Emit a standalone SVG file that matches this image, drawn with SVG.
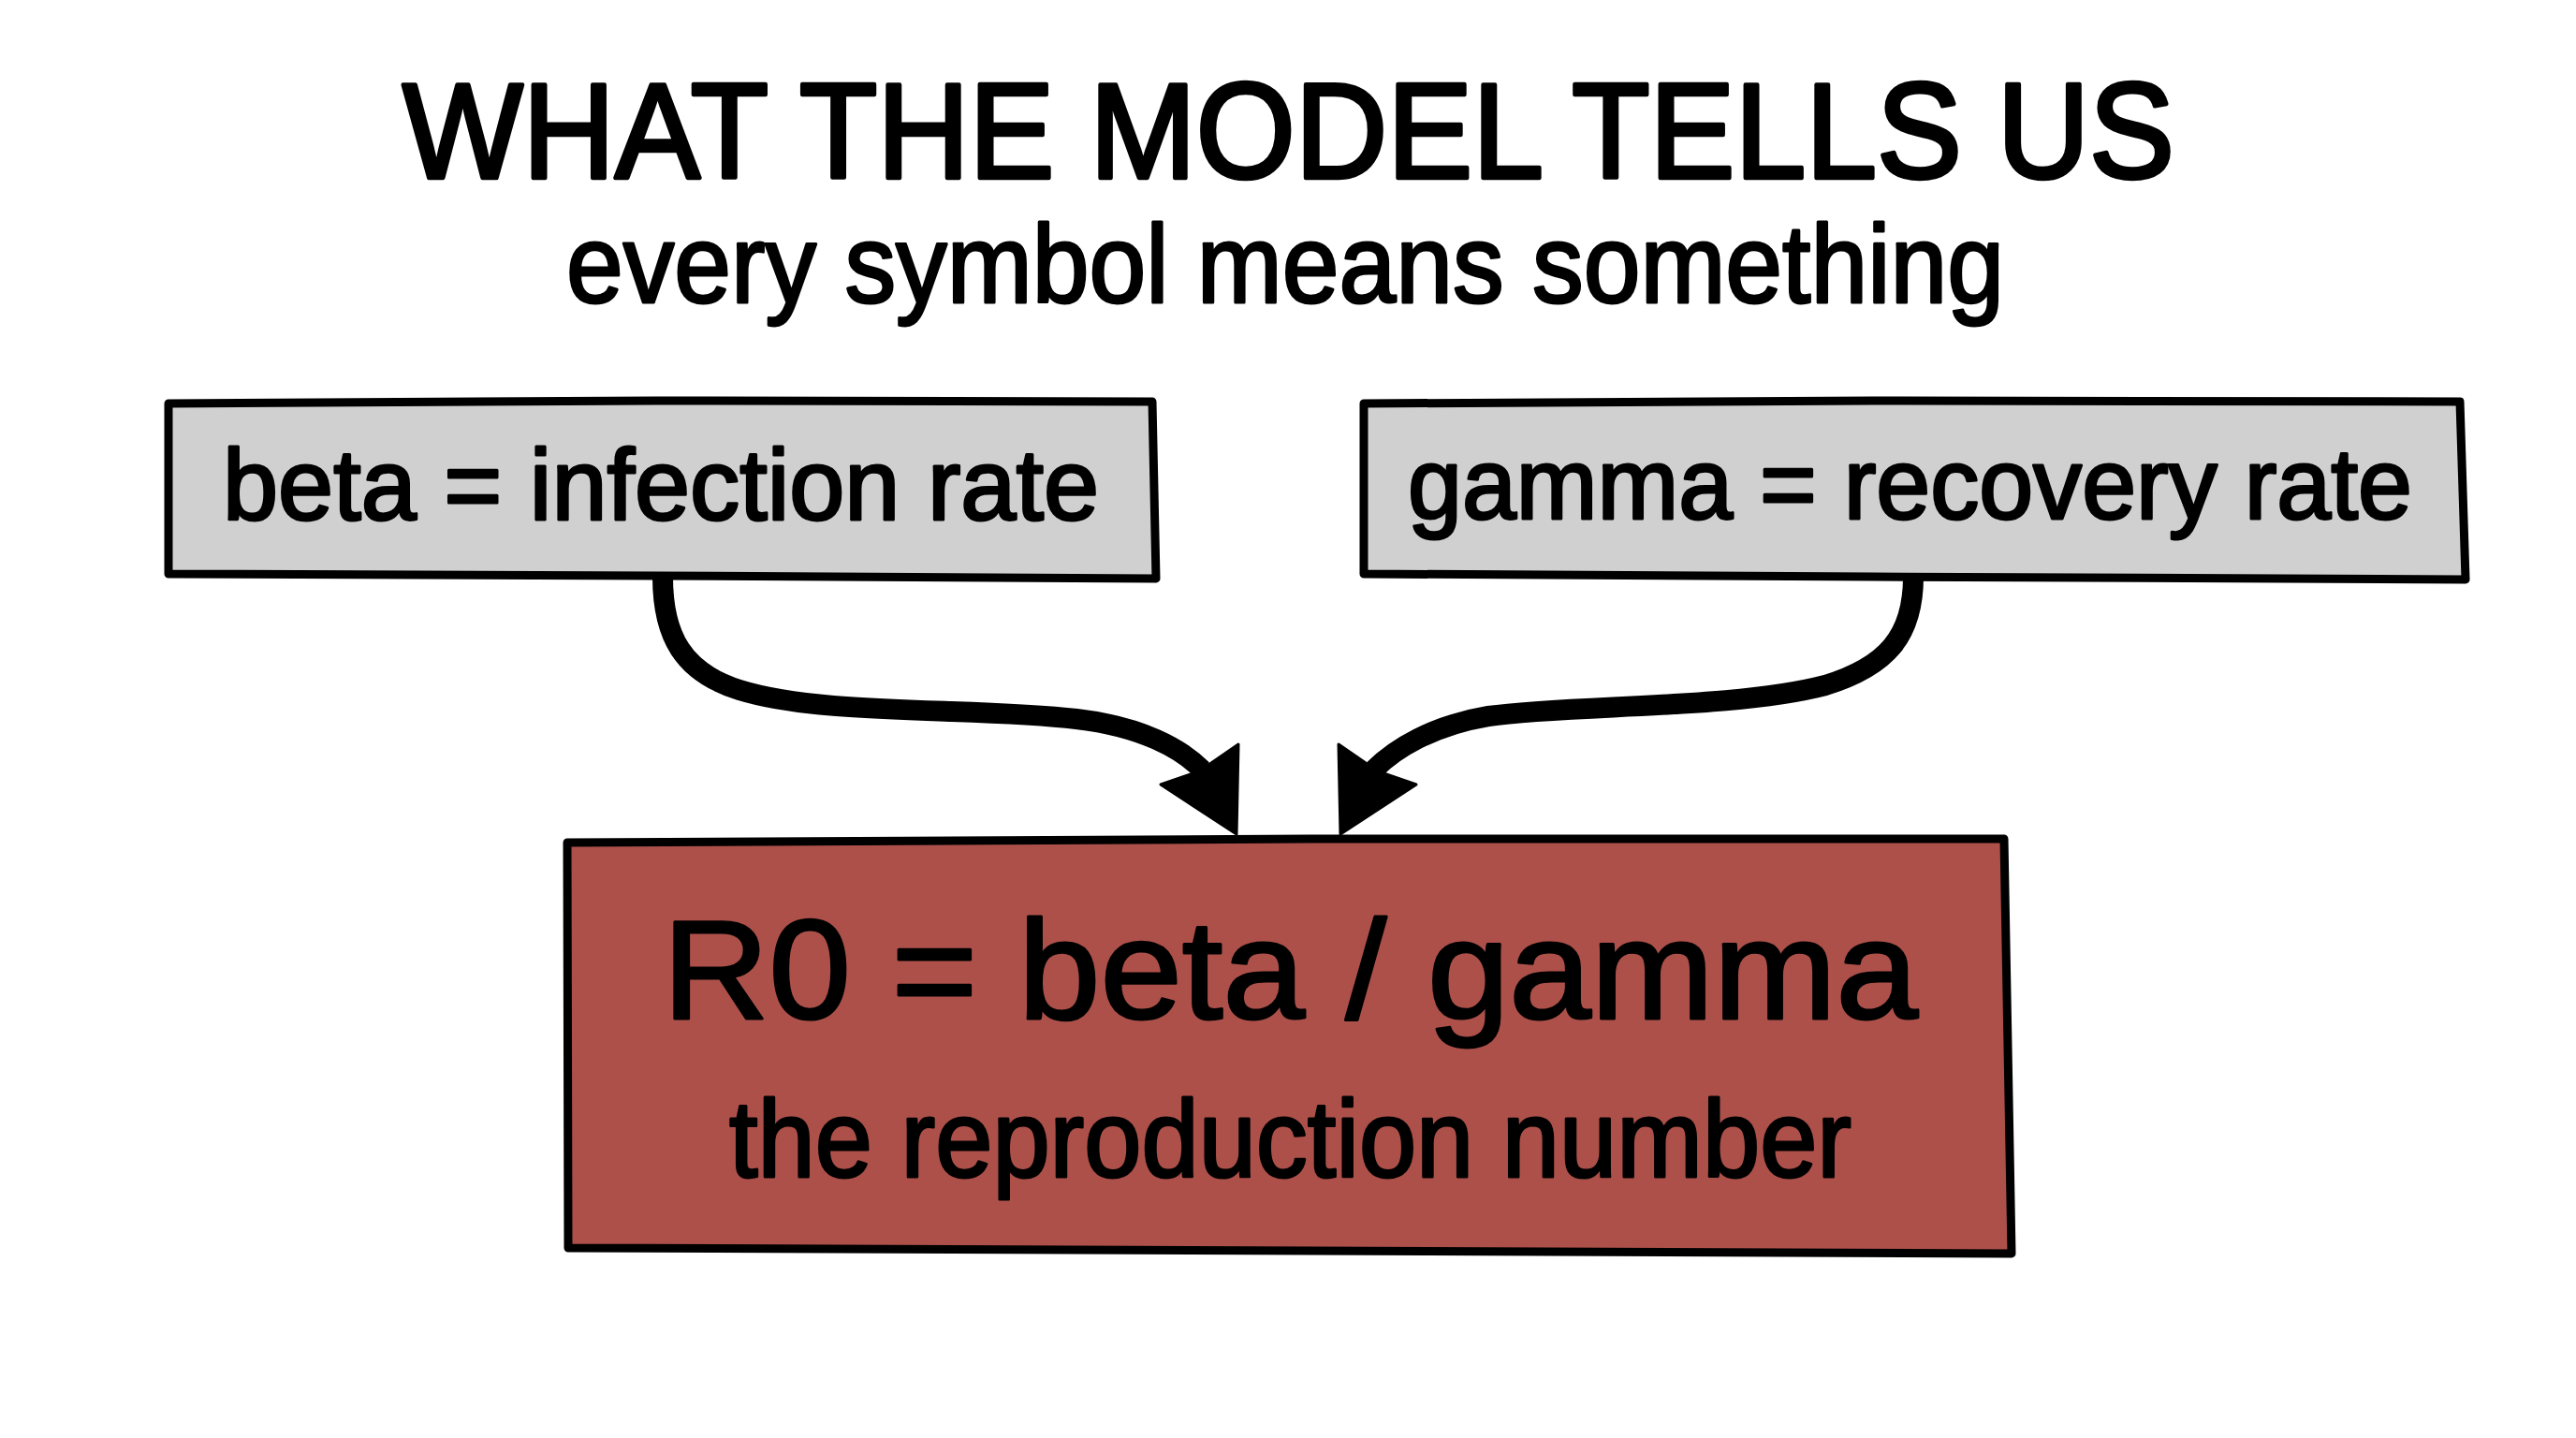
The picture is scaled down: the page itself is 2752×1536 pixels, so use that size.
<svg xmlns="http://www.w3.org/2000/svg" width="2752" height="1536" viewBox="0 0 2752 1536">
  <style>
    .t { font-family: "Liberation Sans", "DejaVu Sans", sans-serif; fill: #000; stroke: #000; stroke-width: 3; stroke-linejoin: round; }
    .tb { stroke-width: 4.5; }
    .box { stroke: #000; stroke-width: 9; stroke-linejoin: round; }
    .grey { fill: #D0D0D0; }
    .red { fill: #AD504A; }
    .conn { fill: none; stroke: #000; stroke-width: 22; stroke-linecap: butt; }
    .head { fill: #000; stroke: #000; stroke-width: 3; stroke-linejoin: round; }
  </style>
  <rect width="2752" height="1536" fill="#FFFFFF"/>

  <g id="title">
    <text class="t tb" x="430" y="190" font-size="144" textLength="1893" lengthAdjust="spacingAndGlyphs">WHAT THE MODEL TELLS US</text>
    <text class="t" x="605" y="323" font-size="119" textLength="1536" lengthAdjust="spacingAndGlyphs">every symbol means something</text>
  </g>

  <g id="connectors">
    <path class="conn" d="M708,616 C708,680 730,718 790,737 C880,765 1040,755 1150,768 C1220,776 1262,800 1284,822"/>
    <polygon class="head" points="1323,795 1321,891 1240,838 1272,827 1294,815"/>
    <path class="conn" d="M2044,616 C2044,680 2015,712 1950,732 C1850,758 1680,752 1590,765 C1530,775 1490,800 1468,822"/>
    <polygon class="head" points="1430,795 1432,891 1513,838 1481,827 1459,815"/>
  </g>

  <g id="node-beta">
    <path class="box grey" d="M180,431 L700,428 L1231,429 L1235,618 L700,615 L180,613 Z"/>
    <text class="t" x="238" y="555" font-size="108" textLength="936" lengthAdjust="spacingAndGlyphs">beta = infection rate</text>
  </g>

  <g id="node-gamma">
    <path class="box grey" d="M1457,431 L2000,428 L2628,429 L2634,619 L2000,616 L1457,613 Z"/>
    <text class="t" x="1504" y="554" font-size="108" textLength="1073" lengthAdjust="spacingAndGlyphs">gamma = recovery rate</text>
  </g>

  <g id="node-r0">
    <path class="box red" d="M606,900 L1400,896 L2141,896 L2149,1339 L1400,1336 L607,1333 Z"/>
    <text class="t" x="708" y="1088" font-size="151" textLength="1341" lengthAdjust="spacingAndGlyphs">R0 = beta / gamma</text>
    <text class="t" x="779" y="1257" font-size="116" textLength="1199" lengthAdjust="spacingAndGlyphs">the reproduction number</text>
  </g>
</svg>
